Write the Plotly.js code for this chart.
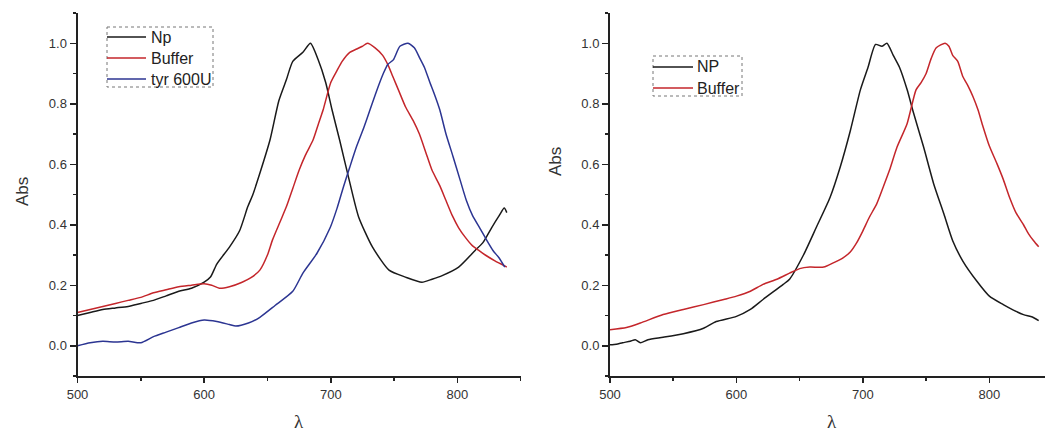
<!DOCTYPE html>
<html>
<head>
<meta charset="utf-8">
<script src="https://cdn.plot.ly/plotly-3.0.1.min.js"></script>
<style>html,body{margin:0;padding:0;background:#fff;}#chart{width:1045px;height:431px;}</style>
</head>
<body>
<div id="chart"></div>
<script>
// ---- Left panel data ----
const npLeftX = [500,510,520,530,540,550,560,570,580,590,600,605,610,620,628,634.5,638.5,644,652,659,665,670,678,684,690,696,701,707,715,722,733,746,759,772,780,788,801,814,820,827,833,837,839];
const npLeftY = [0.10,0.11,0.12,0.125,0.13,0.14,0.15,0.165,0.18,0.19,0.21,0.227,0.27,0.326,0.38,0.46,0.50,0.57,0.68,0.81,0.88,0.94,0.97,1.0,0.946,0.87,0.78,0.68,0.54,0.426,0.326,0.25,0.227,0.21,0.22,0.232,0.26,0.315,0.34,0.39,0.43,0.455,0.44];

const bufLeftX = [500,510,520,530,540,550,560,570,580,590,600,606,612,620,630,637,644,650,654,660,665,670,675,680,686,690,694,700,705,709,715,720,725,729,735,741,745,749,754,759,765,770,775,780,786,791,796,801,806,812,817,822,830,837,839];
const bufLeftY = [0.11,0.12,0.13,0.14,0.15,0.16,0.175,0.185,0.195,0.20,0.205,0.20,0.19,0.195,0.21,0.225,0.25,0.30,0.35,0.41,0.46,0.52,0.58,0.63,0.68,0.73,0.78,0.87,0.91,0.94,0.97,0.98,0.99,1.0,0.985,0.96,0.93,0.89,0.84,0.79,0.745,0.70,0.64,0.58,0.53,0.48,0.43,0.39,0.36,0.33,0.315,0.30,0.28,0.265,0.26];

const tyrLeftX = [500,510,520,530,540,550,560,570,580,590,600,610,620,625,635,644,656,670,678,689,699.5,705,710,715,720.5,726,731,736,741.5,745,749.4,754.6,761,766,770.4,774,778.3,782,786.1,791,796.6,802,807.1,812,817.6,823,828.1,833,837.4];
const tyrLeftY = [0.0,0.01,0.015,0.012,0.015,0.01,0.03,0.045,0.06,0.075,0.085,0.08,0.07,0.065,0.075,0.094,0.133,0.18,0.24,0.305,0.39,0.455,0.525,0.59,0.66,0.72,0.78,0.84,0.90,0.93,0.945,0.99,1.0,0.985,0.95,0.92,0.87,0.83,0.78,0.70,0.625,0.55,0.48,0.43,0.39,0.35,0.315,0.29,0.26];

// ---- Right panel data ----
const npRightX = [500,505,510,516,520,524,530,542,558,574,584,600,611,621,637,642,653,663,674,682,690,698,704,710,715,719,724,729,735,740,748,756,764,771,779,790,800,811,819,827,834,839];
const npRightY = [0.003,0.005,0.01,0.015,0.02,0.01,0.02,0.028,0.04,0.058,0.08,0.097,0.12,0.153,0.203,0.22,0.30,0.39,0.49,0.59,0.71,0.846,0.92,0.996,0.99,1.0,0.96,0.92,0.846,0.77,0.657,0.535,0.436,0.347,0.28,0.214,0.164,0.136,0.118,0.103,0.095,0.083];

const bufRightX = [500,513,524,542,558,574,590,600,611,621,632,642,650,658,669,677,684,690,695,700,705,711,716,721,727,735,742,746,750,754,758,765,768,771,775,779,783,787,791,795,800,806,811,816,821,827,831,835,839];
const bufRightY = [0.053,0.06,0.075,0.103,0.12,0.136,0.153,0.164,0.18,0.203,0.22,0.24,0.255,0.26,0.26,0.275,0.29,0.31,0.34,0.38,0.424,0.47,0.524,0.58,0.657,0.735,0.846,0.87,0.90,0.95,0.985,1.0,0.99,0.96,0.94,0.89,0.86,0.824,0.78,0.724,0.66,0.602,0.55,0.49,0.44,0.40,0.37,0.347,0.327];

const xTicks = [500,600,700,800];
const yTicks = [0.0,0.2,0.4,0.6,0.8,1.0];
const yTickText = ['0.0','0.2','0.4','0.6','0.8','1.0'];
const leftNames = ['Np','Buffer','tyr 600U'];
const rightNames = ['NP','Buffer'];

const BLACK = '#1a1a1a', RED = '#c4262b', BLUE = '#2c3592';
const W = 1045, H = 431;
const px = v => v / W, py = v => 1 - v / H;

function ln(c) { return {color: c, width: 1.5, shape: 'spline', smoothing: 0.6}; }
const traces = [
  {x: npLeftX, y: npLeftY, name: leftNames[0], mode: 'lines', line: ln(BLACK), xaxis: 'x', yaxis: 'y'},
  {x: bufLeftX, y: bufLeftY, name: leftNames[1], mode: 'lines', line: ln(RED), xaxis: 'x', yaxis: 'y'},
  {x: tyrLeftX, y: tyrLeftY, name: leftNames[2], mode: 'lines', line: ln(BLUE), xaxis: 'x', yaxis: 'y'},
  {x: npRightX, y: npRightY, name: rightNames[0], mode: 'lines', line: ln(BLACK), xaxis: 'x2', yaxis: 'y2'},
  {x: bufRightX, y: bufRightY, name: rightNames[1], mode: 'lines', line: ln(RED), xaxis: 'x2', yaxis: 'y2'}
];

const tickFont = {family: 'Liberation Sans, Arial, sans-serif', size: 13, color: '#333'};
function xAxis(domain, anchor, range) {
  return {domain: domain, anchor: anchor, range: range, showgrid: false, zeroline: false,
    showline: true, linecolor: '#222', linewidth: 2, ticks: 'outside', ticklen: 5, tickwidth: 1.5, tickcolor: '#222',
    tickmode: 'array', tickvals: xTicks, ticktext: xTicks.map(String), tickfont: tickFont,
    minor: {dtick: 50, tick0: 500, ticks: 'outside', ticklen: 3, tickwidth: 1.5, tickcolor: '#222'}};
}
function yAxis(domain, anchor) {
  return {domain: domain, anchor: anchor, range: [-0.1, 1.1], showgrid: false, zeroline: false,
    showline: true, linecolor: '#222', linewidth: 2, ticks: 'outside', ticklen: 6, tickwidth: 1.5, tickcolor: '#222',
    tickmode: 'array', tickvals: yTicks, ticktext: yTickText, tickfont: tickFont,
    minor: {dtick: 0.1, tick0: 0, ticks: 'outside', ticklen: 3, tickwidth: 1.5, tickcolor: '#222'}};
}

const yDom = [py(376), py(13)];
const legendFont = {family: 'Liberation Sans, Arial, sans-serif', size: 16, color: '#222'};
const titleFont = {family: 'Liberation Sans, Arial, sans-serif', size: 17, color: '#333'};
const lamFont = {family: 'Liberation Serif, DejaVu Serif, serif', size: 19, color: '#333'};

// legend drawn as shapes + annotations (layout only, positions in pixels)
const shapes = [
  {type: 'rect', xref: 'paper', yref: 'paper', x0: px(107), x1: px(213), y0: py(27), y1: py(87), line: {color: '#777', width: 1, dash: 'dot'}},
  {type: 'rect', xref: 'paper', yref: 'paper', x0: px(653), x1: px(742), y0: py(56), y1: py(96), line: {color: '#777', width: 1, dash: 'dot'}}
];
const annotations = [
  {text: 'Abs', xref: 'paper', yref: 'paper', x: px(22), y: py(192), textangle: -90, showarrow: false, font: titleFont, xanchor: 'center', yanchor: 'middle'},
  {text: 'Abs', xref: 'paper', yref: 'paper', x: px(555), y: py(162), textangle: -90, showarrow: false, font: titleFont, xanchor: 'center', yanchor: 'middle'},
  {text: 'λ', xref: 'paper', yref: 'paper', x: px(299), y: py(421), showarrow: false, font: lamFont, xanchor: 'center', yanchor: 'middle'},
  {text: 'λ', xref: 'paper', yref: 'paper', x: px(832), y: py(421), showarrow: false, font: lamFont, xanchor: 'center', yanchor: 'middle'}
];
const leftCols = [BLACK, RED, BLUE], rightCols = [BLACK, RED];
leftNames.forEach((n, i) => {
  const yy = 37 + 21 * i;
  shapes.push({type: 'line', xref: 'paper', yref: 'paper', x0: px(107), x1: px(146), y0: py(yy), y1: py(yy), line: {color: leftCols[i], width: 1.5}});
  annotations.push({text: n, xref: 'paper', yref: 'paper', x: px(149), y: py(yy), showarrow: false, font: legendFont, xanchor: 'left', yanchor: 'middle'});
});
rightNames.forEach((n, i) => {
  const yy = 67 + 21 * i;
  shapes.push({type: 'line', xref: 'paper', yref: 'paper', x0: px(653), x1: px(693), y0: py(yy), y1: py(yy), line: {color: rightCols[i], width: 1.5}});
  annotations.push({text: n, xref: 'paper', yref: 'paper', x: px(695), y: py(yy), showarrow: false, font: legendFont, xanchor: 'left', yanchor: 'middle'});
});

const layout = {
  width: W, height: H, margin: {l: 0, r: 0, t: 0, b: 0},
  paper_bgcolor: '#fff', plot_bgcolor: '#fff', showlegend: false,
  xaxis: xAxis([px(77.5), px(520.7)], 'y', [500, 850]),
  yaxis: yAxis(yDom, 'x'),
  xaxis2: xAxis([px(610), 1.0], 'y2', [500, 844]),
  yaxis2: yAxis(yDom, 'x2'),
  shapes: shapes,
  annotations: annotations
};

Plotly.newPlot('chart', traces, layout, {displayModeBar: false, staticPlot: true});
</script>
</body>
</html>
